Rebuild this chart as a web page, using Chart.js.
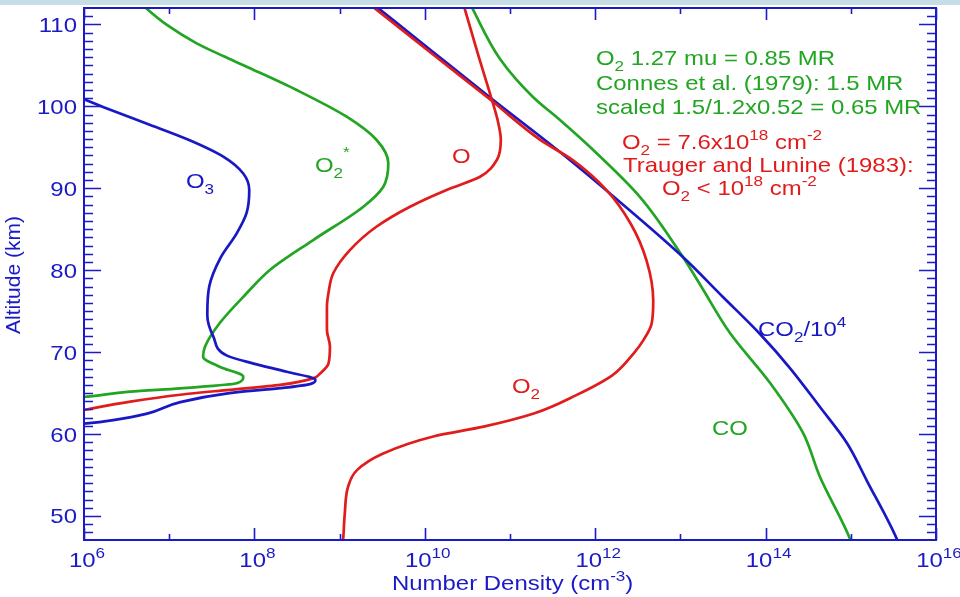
<!DOCTYPE html>
<html><head><meta charset="utf-8">
<script src="https://cdn.jsdelivr.net/npm/chart.js@4.4.0/dist/chart.umd.min.js"></script>
<style>
html,body{margin:0;padding:0;background:#fff;}
#wrap{position:relative;width:960px;height:597px;overflow:hidden;}
#band{position:absolute;left:0;top:0;width:960px;height:5px;background:#c6dde6;}
</style>
</head><body>
<div id="wrap"><canvas id="c" width="960" height="597"></canvas><div id="band"></div></div>
<script>
// ---- data (number density in cm^-3, altitude in km) ----
const o3Density = [7.9e5,1.7e6,5.4e6,1.74e7,4.4e7,7.4e7,8.7e7,8.1e7,6.2e7,4.0e7,2.95e7,2.8e7,3.3e7,4.7e7,9.8e7,2.4e8,5.2e8,4.5e8,2.0e8,5.1e7,1.35e7,5.5e6,2.2e6,1.07e6,7.9e5];
const o3Altitude = [101.3,99.9,97.9,95.85,93.8,91.8,89.8,87.0,84.5,81.5,78.0,74.5,71.9,69.6,68.6,67.6,66.6,66.1,65.6,65.0,63.9,62.5,61.7,61.3,61.2];

const o2StarDensity = [4.67e6,9.4e6,2.1e7,4.3e7,8.1e7,3.13e8,1.21e9,2.72e9,3.73e9,3.26e9,1.9e9,4.9e8,1.52e8,8.1e7,3.9e7,2.63e7,2.5e7,3.9e7,7.4e7,6.2e7,1.34e7,3.47e6,1.08e6,8.5e5];
const o2StarAltitude = [112.49,109.93,107.69,106.14,104.84,101.99,98.73,95.89,93.04,90.19,87.75,83.68,80.02,77.18,73.52,70.66,69.44,68.22,67.0,66.19,65.58,65.17,64.56,64.46];

const oDensity = [2.85e10,4.2e10,6.1e10,7.2e10,7.8e10,7.0e10,4.45e10,1.8e10,6.7e9,2.7e9,1.32e9,8.4e8,7.4e8,7.1e8,7.1e8,7.7e8,7.4e8,5.9e8,4.9e8,2.0e8,5.1e7,1.35e7,3.5e6,1.07e6,8.5e5];
const oAltitude = [112.4,106.4,100.86,98.2,95.9,93.45,91.4,89.8,87.75,85.3,82.45,79.6,77.2,75.5,72.7,70.7,68.6,67.4,66.8,66.0,65.4,64.8,63.95,63.0,62.8];

const o2Density = [2.35e9,1.26e10,5.9e10,2.2e11,5.5e11,1.35e12,2.6e12,4.0e12,4.8e12,4.6e12,3.7e12,2.8e12,1.6e12,6.0e11,1.9e11,4.9e10,1.26e10,3.2e9,1.6e9,1.26e9,1.15e9,1.1e9,1.07e9];
const o2Altitude = [112.3,106.3,100.8,96.0,93.4,89.8,85.7,81.2,76.3,73.5,71.5,69.8,67.2,64.75,62.5,60.9,59.7,57.6,55.6,53.6,50.3,47.1,46.0];

const co2Density = [2.6e9,1.26e10,6.15e10,3.86e11,1.95e12,1.07e13,3.16e13,8.6e13,1.93e14,4.35e14,9.0e14,1.55e15,3.47e15,3.68e15];
const co2Altitude = [112.3,106.6,100.89,94.42,88.33,81.61,76.73,72.21,68.06,63.30,58.91,54.27,47.19,46.46];

const coDensity = [3.4e10,7.64e10,1.86e11,3.86e11,8.7e11,3.36e12,1.07e13,1.77e13,3.82e13,1.13e14,2.75e14,4.35e14,9.8e14,1.03e15];
const coAltitude = [112.49,105.78,101.14,98.33,95.03,88.93,81.61,77.95,72.33,66.23,60.13,54.76,47.19,46.46];

// tick values
const xMajorExponents = [6,8,10,12,14,16];
const xMinorExponents = [7,9,11,13,15];
const yMajorTicks = [50,60,70,80,90,100,110];
const yMinorTicks = [48,49,50,51,52,53,54,55,56,57,58,59,60,61,62,63,64,65,66,67,68,69,70,71,72,73,74,75,76,77,78,79,80,81,82,83,84,85,86,87,88,89,90,91,92,93,94,95,96,97,98,99,100,101,102,103,104,105,106,107,108,109,110,111];

// ---- styling ----
const BLUE = '#1818c4', GREEN = '#22a522', RED = '#e01c1c', AXIS = '#1a1ac6';
const FONT = '"Liberation Sans", Arial, Helvetica, sans-serif';
const SX = 1.14;   // horizontal stretch of the lettering
const BIG = 21, SMALL = 15;

function pts(xs, ys){ return xs.map((x,i)=>({x:x, y:ys[i]})); }
function ds(label, xs, ys, color){
  return {label, data: pts(xs, ys), borderColor: color, borderWidth: 2.7, showLine: true,
          pointRadius: 0, cubicInterpolationMode: 'monotone', fill: false, clip: 0};
}

// rich text: parts = [[text, mode]], mode 0 normal, 1 subscript, 2 superscript
function richWidth(ctx, parts){
  let w = 0;
  for (const [t, m] of parts){ ctx.font = (m === 0 ? BIG : SMALL) + 'px ' + FONT; w += ctx.measureText(t).width; }
  return w * SX;
}
function rich(ctx, parts, x, y, color){
  ctx.save();
  ctx.translate(x, y);
  ctx.scale(SX, 1);
  ctx.fillStyle = color;
  ctx.textAlign = 'left';
  ctx.textBaseline = 'alphabetic';
  let cx = 0;
  for (const [t, m] of parts){
    ctx.font = (m === 0 ? BIG : SMALL) + 'px ' + FONT;
    const dy = m === 1 ? 6 : (m === 2 ? -9 : 0);
    ctx.fillText(t, cx, dy);
    cx += ctx.measureText(t).width;
  }
  ctx.restore();
}

const decor = {
  id: 'decor',
  afterDatasetsDraw(chart){
    const ctx = chart.ctx, a = chart.chartArea, xs = chart.scales.x, ys = chart.scales.y;
    ctx.save();
    ctx.strokeStyle = AXIS; ctx.lineWidth = 2;
    ctx.strokeRect(a.left, a.top, a.right - a.left, a.bottom - a.top);
    ctx.lineWidth = 1.6;
    ctx.beginPath();
    for (const v of yMinorTicks){
      const py = Math.round(ys.getPixelForValue(v)) + 0.5;
      const len = yMajorTicks.includes(v) ? 17 : 9;
      ctx.moveTo(a.left, py); ctx.lineTo(a.left + len, py);
      ctx.moveTo(a.right, py); ctx.lineTo(a.right - len, py);
    }
    for (const e of xMajorExponents.concat(xMinorExponents)){
      const px = Math.round(xs.getPixelForValue(Math.pow(10, e))) + 0.5;
      const len = xMajorExponents.includes(e) ? 12 : 6;
      ctx.moveTo(px, a.bottom); ctx.lineTo(px, a.bottom - len);
      ctx.moveTo(px, a.top); ctx.lineTo(px, a.top + len);
    }
    ctx.stroke();

    // y tick labels (right aligned)
    for (const v of yMajorTicks){
      const parts = [[String(v),0]];
      rich(ctx, parts, 77 - richWidth(ctx, parts), ys.getPixelForValue(v) + 7.5, AXIS);
    }
    // x tick labels
    for (const e of xMajorExponents){
      const parts = [['10',0],[String(e),2]];
      const w = richWidth(ctx, parts);
      const px = xs.getPixelForValue(Math.pow(10, e));
      rich(ctx, parts, px + 3 - w/2, 567, AXIS);
    }
    // axis titles
    rich(ctx, [['Number Density (cm',0],['-3',2],[')',0]], 392, 590, AXIS);
    ctx.save();
    ctx.translate(20, 275); ctx.rotate(-Math.PI/2);
    ctx.font = BIG + 'px ' + FONT; ctx.fillStyle = AXIS; ctx.textAlign = 'center'; ctx.textBaseline = 'alphabetic';
    ctx.fillText('Altitude (km)', 0, 0);
    ctx.restore();

    // curve labels
    rich(ctx, [['O',0],['3',1]], 186, 188, BLUE);
    rich(ctx, [['O',0],['2',1]], 315, 172, GREEN);
    rich(ctx, [['*',2]], 343, 166, GREEN);
    rich(ctx, [['O',0]], 452, 163, RED);
    rich(ctx, [['O',0],['2',1]], 512, 393, RED);
    rich(ctx, [['CO',0],['2',1],['/10',0],['4',2]], 758, 336, BLUE);
    rich(ctx, [['CO',0]], 712, 435, GREEN);

    // annotation text
    rich(ctx, [['O',0],['2',1],[' 1.27 mu = 0.85 MR',0]], 596, 65, GREEN);
    rich(ctx, [['Connes et al. (1979): 1.5 MR',0]], 596, 90, GREEN);
    rich(ctx, [['scaled 1.5/1.2x0.52 = 0.65 MR',0]], 596, 114, GREEN);
    rich(ctx, [['O',0],['2',1],[' = 7.6x10',0],['18',2],[' cm',0],['-2',2]], 622, 149, RED);
    rich(ctx, [['Trauger and Lunine (1983):',0]], 623, 172, RED);
    rich(ctx, [['O',0],['2',1],[' < 10',0],['18',2],[' cm',0],['-2',2]], 662, 195, RED);
    ctx.restore();
  }
};

new Chart(document.getElementById('c'), {
  type: 'scatter',
  data: { datasets: [
    ds('O3', o3Density, o3Altitude, BLUE),
    ds('O2*', o2StarDensity, o2StarAltitude, GREEN),
    ds('O', oDensity, oAltitude, RED),
    ds('O2', o2Density, o2Altitude, RED),
    ds('CO2/1e4', co2Density, co2Altitude, BLUE),
    ds('CO', coDensity, coAltitude, GREEN)
  ]},
  options: {
    indexAxis: 'y',
    responsive: false, animation: false, devicePixelRatio: 1,
    layout: { padding: { left: 84, right: 24, top: 8, bottom: 57 } },
    plugins: { legend: { display: false }, tooltip: { enabled: false } },
    scales: {
      x: { type: 'logarithmic', min: 1e6, max: 1e16, display: false },
      y: { type: 'linear', min: 47.07, max: 112, display: false }
    }
  },
  plugins: [decor]
});
</script>
</body></html>
